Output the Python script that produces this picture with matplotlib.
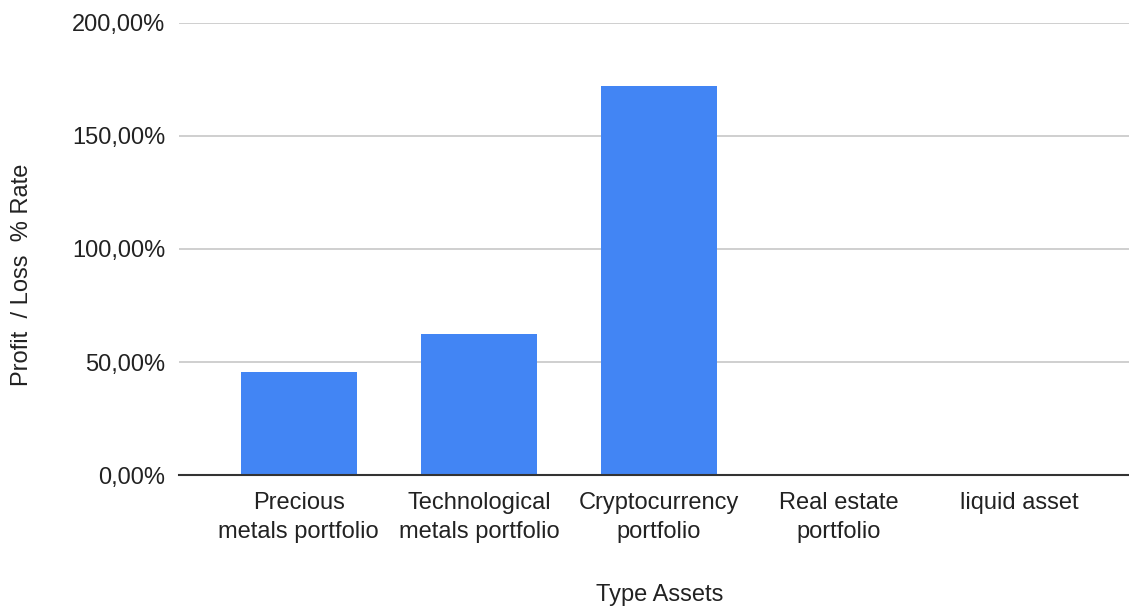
import matplotlib.pyplot as plt
from matplotlib.ticker import FuncFormatter

categories = ['Precious\nmetals portfolio', 'Technological\nmetals portfolio',
              'Cryptocurrency\nportfolio', 'Real estate\nportfolio', 'liquid asset']
profit_loss = [45.6, 62.5, 172.0, 0.0, 0.0]
y_ticks = [0, 50, 100, 150, 200]

plt.rcParams['font.family'] = ['Liberation Sans', 'DejaVu Sans']

fig = plt.figure(figsize=(11.29, 6.10), dpi=100)
ax = fig.add_axes([179.3 / 1129, 1 - 475.3 / 610, 1 - 179.3 / 1129, 452.6 / 610])

x = list(range(len(categories)))
ax.bar(x, profit_loss, width=0.645, color='#4285F4', zorder=3)

ax.set_ylim(0, 200)
ax.set_xlim(-0.663, 4.61)
ax.set_yticks(y_ticks)
ax.yaxis.set_major_formatter(FuncFormatter(lambda v, p: f'{v:.2f}'.replace('.', ',') + '%'))
ax.set_xticks(x)
ax.set_xticklabels(categories, fontsize=17, color='#222222', linespacing=1.4)
ax.tick_params(axis='y', labelsize=17, labelcolor='#222222', length=0, pad=10)
ax.tick_params(axis='x', length=0, pad=12)

ax.grid(axis='y', color='#cccccc', linewidth=1.3, zorder=0)
for s in ['top', 'right', 'left']:
    ax.spines[s].set_visible(False)
ax.spines['bottom'].set_color('#333333')
ax.spines['bottom'].set_linewidth(1.5)
ax.spines['bottom'].set_zorder(4)

ax.set_ylabel('Profit  / Loss  % Rate', fontsize=17, color='#222222', va='center')
ax.yaxis.set_label_coords(-0.1656, 0.4426)
ax.set_xlabel('Type Assets', fontsize=17, color='#222222', va='center')
ax.xaxis.set_label_coords(0.506, -0.2645)

fig.savefig('out.png', dpi=100)
